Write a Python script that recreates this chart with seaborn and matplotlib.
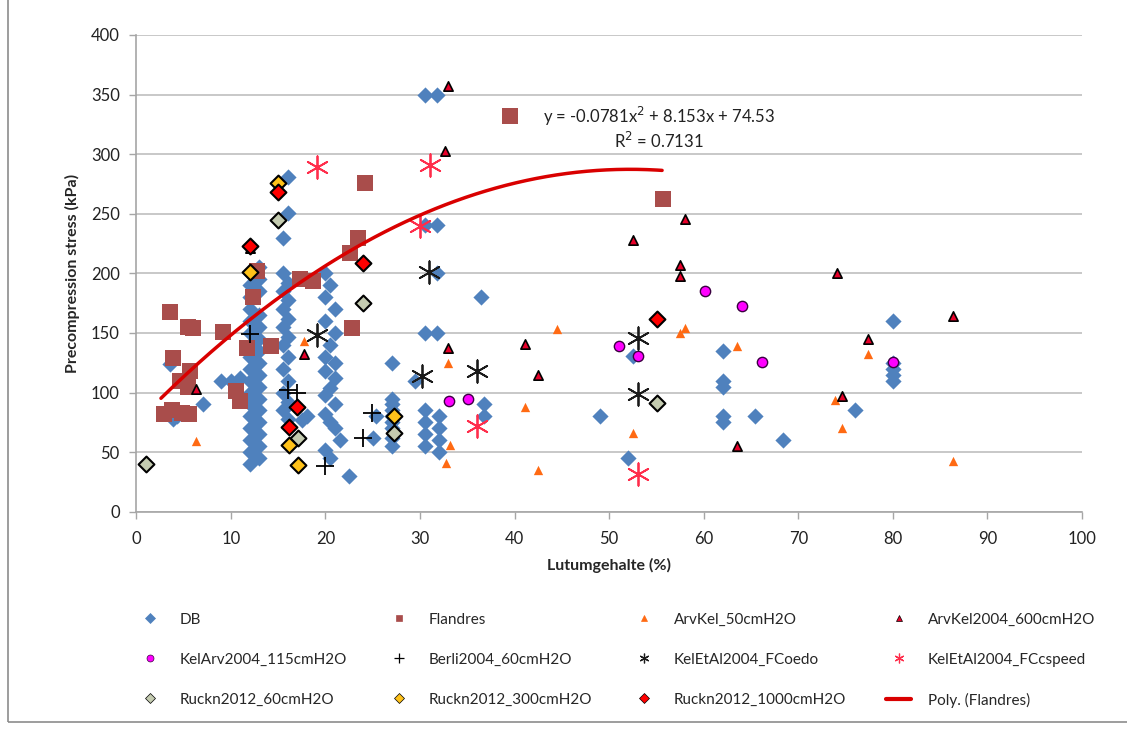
import numpy as np
import pandas as pd
import matplotlib
matplotlib.use("Agg")
import matplotlib.pyplot as plt
from matplotlib.lines import Line2D
from matplotlib.patches import Rectangle
import seaborn as sns

# --- data (Lutum % vs precompression stress kPa) ---
db_x = ([12] * 17 + [13] * 16
        + [16, 16, 15.5, 15.5, 16, 15.5, 16, 15.5, 16, 15.5, 16, 15.5, 16, 15.5, 16, 15.5, 16, 15.5, 16, 17.5, 18]
        + [20, 20.5, 20, 21, 20, 21, 20.5, 20, 21, 20, 21, 20.5, 20, 21, 20, 20.5, 21, 20, 20.5, 21.5, 22.5]
        + [3.6, 3.9, 4.3, 7, 9, 10, 11]
        + [27, 27, 27, 27, 27, 27, 27, 27, 27, 25.3, 25]
        + [30.5, 31.8, 30.5, 31.8, 31.8, 30.5, 31.8, 30.5, 32, 30.5, 32, 30.5, 32, 30.5, 32, 29.5, 36.5, 36.8, 36.8]
        + [49, 52, 52.5, 62, 62, 62, 62, 62, 65.4, 68.4, 76, 80, 80, 80, 80, 80])
db_y = ([40, 50, 60, 70, 80, 90, 100, 110, 120, 130, 140, 150, 160, 170, 180, 190, 200]
        + [45, 55, 65, 75, 85, 95, 105, 115, 125, 135, 145, 155, 165, 185, 195, 205]
        + [281, 251, 230, 200, 192, 185, 178, 170, 162, 155, 147, 140, 130, 120, 110, 100, 92, 85, 78, 77, 80]
        + [200, 190, 180, 170, 160, 150, 140, 130, 125, 118, 112, 104, 98, 90, 82, 75, 70, 52, 45, 60, 30]
        + [124, 78, 80, 90, 110, 110, 112]
        + [125, 95, 90, 85, 80, 75, 70, 62, 55, 80, 62]
        + [350, 350, 241, 241, 200, 150, 150, 85, 80, 75, 70, 65, 60, 55, 50, 110, 180, 90, 80]
        + [80, 45, 131, 135, 110, 105, 80, 75, 80, 60, 85, 160, 125, 120, 115, 110])

fl_x = [3.6, 6.0, 5.5, 9.2, 12.3, 12.8, 11.7, 14.2, 17.3, 18.7, 3.9, 4.6, 5.7, 5.5,
        2.9, 3.8, 4.8, 5.6, 10.5, 11.0, 24.2, 23.4, 22.6, 22.8, 39.5, 55.7]
fl_y = [168, 154, 155, 151, 180, 202, 137, 139, 195, 194, 129, 110, 118, 105,
        82, 85, 83, 82, 101, 93, 276, 230, 217, 154, 332, 262]

ak50_x = [6.3, 17.7, 33.0, 33.2, 32.7, 44.5, 41.1, 42.5, 52.5, 57.5, 58.0, 63.5, 77.4, 73.9, 74.6, 86.4]
ak50_y = [59, 143, 125, 56, 41, 153, 88, 35, 66, 150, 154, 139, 132, 94, 70, 43]

ak600_x = [6.3, 17.7, 12.0, 33.0, 32.6, 33.0, 41.1, 42.5, 52.5, 58.0, 57.5, 57.5, 74.1, 86.4, 77.4, 74.6, 63.5]
ak600_y = [103, 132, 221, 357, 303, 137, 141, 115, 228, 246, 207, 198, 200, 164, 145, 97, 55]

ka115_x = [33.1, 35.1, 51.0, 53.0, 60.1, 64.0, 66.2, 80.0]
ka115_y = [93, 95, 139, 131, 185, 173, 126, 126]

be60_x = [12.0, 16.0, 17.0, 24.9, 24.0, 20.0]
be60_y = [149, 102, 100, 83, 62, 38]

oedo_x = [19.1, 30.9, 30.2, 36.0, 53.0, 53.1]
oedo_y = [148, 201, 114, 118, 146, 99]

cspeed_x = [19.1, 31.1, 30.0, 36.0, 53.1]
cspeed_y = [289, 291, 240, 72, 32]

r60_x = [1.0, 15.0, 17.1, 24.0, 27.2, 55.1]
r60_y = [40, 245, 62, 175, 66, 91]

r300_x = [15.0, 12.0, 16.1, 17.1, 27.2]
r300_y = [276, 201, 56, 39, 80]

r1000_x = [12.0, 15.0, 17.0, 16.1, 24.0, 55.1]
r1000_y = [223, 268, 88, 71, 209, 162]

# trendline shown on the chart
poly_coef = [-0.0781, 8.153, 74.53]
poly_label = "y = -0.0781x$^2$ + 8.153x + 74.53"
r2_label = "R$^2$ = 0.7131"

x_ticks = list(range(0, 101, 10))
y_ticks = list(range(0, 401, 50))

# --- styling ---
sns.set_theme(style="white")
plt.rcParams["font.family"] = ["Lato", "DejaVu Sans"]

series = [
    # name, x, y, marker, face, edge, size, lw
    ("DB", db_x, db_y, "D", "#4F81BD", "#4F81BD", 68, 0.0),
    ("Flandres", fl_x, fl_y, "s", "#A94D4B", "#A94D4B", 125, 0.0),
    ("ArvKel_50cmH2O", ak50_x, ak50_y, "^", "#FF6A13", "#FF6A13", 45, 0.0),
    ("ArvKel2004_600cmH2O", ak600_x, ak600_y, "^", "#E8002A", "black", 45, 1.2),
    ("KelArv2004_115cmH2O", ka115_x, ka115_y, "o", "#FF00FF", "#3A0040", 55, 1.0),
    ("Berli2004_60cmH2O", be60_x, be60_y, "+", "black", "black", 160, 1.3),
    ("KelEtAl2004_FCoedo", oedo_x, oedo_y, (6, 2, 0), "#1A1A1A", "#1A1A1A", 260, 1.3),
    ("KelEtAl2004_FCcspeed", cspeed_x, cspeed_y, (6, 2, 0), "#FF2D4B", "#FF2D4B", 260, 1.3),
    ("Ruckn2012_60cmH2O", r60_x, r60_y, "D", "#C4CBB0", "black", 65, 1.5),
    ("Ruckn2012_300cmH2O", r300_x, r300_y, "D", "#FFC21A", "black", 65, 1.5),
    ("Ruckn2012_1000cmH2O", r1000_x, r1000_y, "D", "#FF0000", "black", 65, 1.5),
]

fig = plt.figure(figsize=(11.27, 7.29), dpi=100)
ax = fig.add_axes([0.121, 0.298, 0.839, 0.654])

for name, xs, ys, mk, fc, ec, s, lw in series:
    df = pd.DataFrame({"x": xs, "y": ys})
    if mk in ("+", (6, 2, 0)):
        sns.scatterplot(data=df, x="x", y="y", ax=ax, marker=mk, color=fc,
                        s=s, linewidth=lw, zorder=3)
    else:
        sns.scatterplot(data=df, x="x", y="y", ax=ax, marker=mk, color=fc,
                        edgecolor=ec, s=s, linewidth=lw, zorder=3)

# polynomial trend for Flandres
trend_x = np.linspace(min(fl_x) - 0.3, max(fl_x) - 0.1, 200)
trend = pd.DataFrame({"x": trend_x, "y": np.polyval(poly_coef, trend_x)})
sns.lineplot(data=trend, x="x", y="y", ax=ax, color="#D90000", linewidth=2.5, zorder=4)

ax.text(55.3, 332, poly_label, ha="center", va="center", fontsize=12, color="#222222")
ax.text(55.3, 311, r2_label, ha="center", va="center", fontsize=12, color="#222222")

ax.set_xlim(0, 100)
ax.set_ylim(0, 400)
ax.set_xticks(x_ticks)
ax.set_yticks(y_ticks)
ax.yaxis.grid(True, color="#BFBFBF", linewidth=1.2)
ax.set_axisbelow(True)
for sp in ["top", "right"]:
    ax.spines[sp].set_visible(False)
for sp in ["left", "bottom"]:
    ax.spines[sp].set_color("#A6A6A6")
    ax.spines[sp].set_linewidth(1.2)
ax.tick_params(axis="both", which="both", direction="out", length=5, width=1,
               color="#A6A6A6", labelsize=12, labelcolor="#222222", bottom=True, left=True)
ax.tick_params(axis="x", pad=9)
ax.tick_params(axis="y", pad=7)
ax.set_xlabel("Lutumgehalte (%)", fontsize=11.5, fontweight="bold", labelpad=8)
ax.set_ylabel("Precompression stress (kPa)", fontsize=11.5, fontweight="bold", labelpad=8)

# legend: row-major in the picture, matplotlib fills column-major
handles = []
for name, xs, ys, mk, fc, ec, s, lw in series:
    if mk in ("+", (6, 2, 0)):
        h = Line2D([], [], linestyle="none", marker=mk, color=fc, markersize=7, markeredgewidth=0.9)
    else:
        h = Line2D([], [], linestyle="none", marker=mk, markerfacecolor=fc, markeredgecolor=ec,
                   markersize=5, markeredgewidth=0.5)
    handles.append((h, name))
handles.append((Line2D([], [], color="#D90000", linewidth=3), "Poly. (Flandres)"))
ncol = 4
order = [handles[r * ncol + c] for c in range(ncol) for r in range(3)]
fig.legend([h for h, _ in order], [l for _, l in order], ncol=ncol, loc="upper left",
           bbox_to_anchor=(0.117, 0.168, 0.86, 0.0), mode="expand", frameon=False,
           fontsize=11, handlelength=1.6, handletextpad=1.1, labelspacing=1.7,
           borderaxespad=0.0)

# outer chart border like the spreadsheet chart area
fig.patches.append(Rectangle((0.007, 0.009), 1.2, 1.2, transform=fig.transFigure,
                             fill=False, edgecolor="#8C8C8C", linewidth=1.2))

fig.savefig("out.png", dpi=100)
